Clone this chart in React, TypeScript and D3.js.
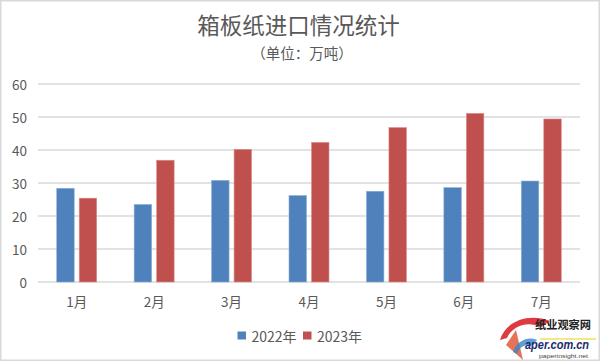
import React from "react";
import * as d3 from "d3";

const categories = ["1月", "2月", "3月", "4月", "5月", "6月", "7月"];
const series2022 = [28.4, 23.5, 30.8, 26.2, 27.5, 28.6, 30.6];
const series2023 = [25.4, 36.9, 40.2, 42.3, 46.8, 51.1, 49.4];
const yTicks = [0, 10, 20, 30, 40, 50, 60];
const seriesNames = ["2022年", "2023年"];
const title = "箱板纸进口情况统计";
const subtitle = "（单位：万吨）";

const W = 600;
const H = 361;
const colors = ["#4F81BD", "#C0504D"];
const FONT = "'Noto Sans CJK SC', 'Noto Sans', sans-serif";
const textColor = "#595959";

export default function App() {
  const left = 38, right = 580, top = 84, bottom = 282;
  const x = d3.scaleBand<string>().domain(categories).range([left, right]);
  const y = d3.scaleLinear().domain([0, 60]).range([bottom, top]);
  const barW = 17.5;
  const gap = 5;
  const data = [series2022, series2023];

  return (
    <svg width={W} height={H} style={{ position: "absolute", left: 0, top: 0, background: "#fff" }} fontFamily={FONT}>
      <rect x={0.5} y={0.5} width={W - 1} height={H - 1} fill="#fff" stroke="#d9d9d9" strokeWidth={2} />
      <text x={298.5} y={24} textAnchor="middle" dominantBaseline="central" fontSize={22.5} fill={textColor}>{title}</text>
      <text x={302} y={52} textAnchor="middle" dominantBaseline="central" fontSize={14.5} fill={textColor}>{subtitle}</text>
      {yTicks.map((t) => (
        <g key={t}>
          <line x1={left} x2={right} y1={y(t)} y2={y(t)} stroke="#d9d9d9" strokeWidth={1.3} />
          <text x={27} y={y(t)} textAnchor="end" dominantBaseline="central" fontSize={13.5} fill={textColor}>{t}</text>
        </g>
      ))}
      {categories.map((c, i) => {
        const cx = (x(c) as number) + x.bandwidth() / 2;
        return (
          <g key={c}>
            {data.map((s, k) => {
              const bx = k === 0 ? cx - gap / 2 - barW : cx + gap / 2;
              return (
                <rect key={k} x={bx} y={y(s[i])} width={barW} height={bottom - y(s[i])}
                  fill={colors[k]} stroke={k === 0 ? "#8fb0d9" : "#dc8f8d"} strokeWidth={0.6} />
              );
            })}
            <text x={cx} y={301} textAnchor="middle" dominantBaseline="central" fontSize={13.5} fill={textColor}>{c}</text>
          </g>
        );
      })}
      {seriesNames.map((n, k) => {
        const lx = k === 0 ? 237.5 : 303;
        return (
          <g key={n}>
            <rect x={lx} y={331.5} width={8.5} height={8} fill={colors[k]} />
            <text x={lx + 14} y={336} dominantBaseline="central" fontSize={14} fill={textColor}>{n}</text>
          </g>
        );
      })}
      <g>
        <path d="M500,340 C506,320 530,313 550,321 L541,327 C528,321 513,325 507,338 Z" fill="#d9262c" opacity={0.9} />
        <path d="M506,345 L516,330 L523,360 Z" fill="#e05a3a" opacity={0.85} />
        <path d="M513,352 C517,340 529,336 537,340 L531,346 C526,344 520,346 517,354 Z" fill="#3a86c8" opacity={0.8} />
        <line x1={540} x2={596} y1={339} y2={339} stroke="#f2e15a" strokeWidth={1.5} />
        <text x={535} y={329} fontSize={11.5} fontWeight="bold" fill="#222" textLength={56} lengthAdjust="spacingAndGlyphs">纸业观察网</text>
        <text x={525} y={349} fontSize={12.5} fontStyle="italic" fontWeight="bold" fill="#1a2a6c" fontFamily="'Liberation Sans', sans-serif" textLength={64} lengthAdjust="spacingAndGlyphs">aper.com.cn</text>
        <text x={539} y={358} fontSize={6} fill="#444" fontFamily="'Liberation Sans', sans-serif" textLength={49} lengthAdjust="spacingAndGlyphs">paperinsight.net</text>
      </g>
    </svg>
  );
}
